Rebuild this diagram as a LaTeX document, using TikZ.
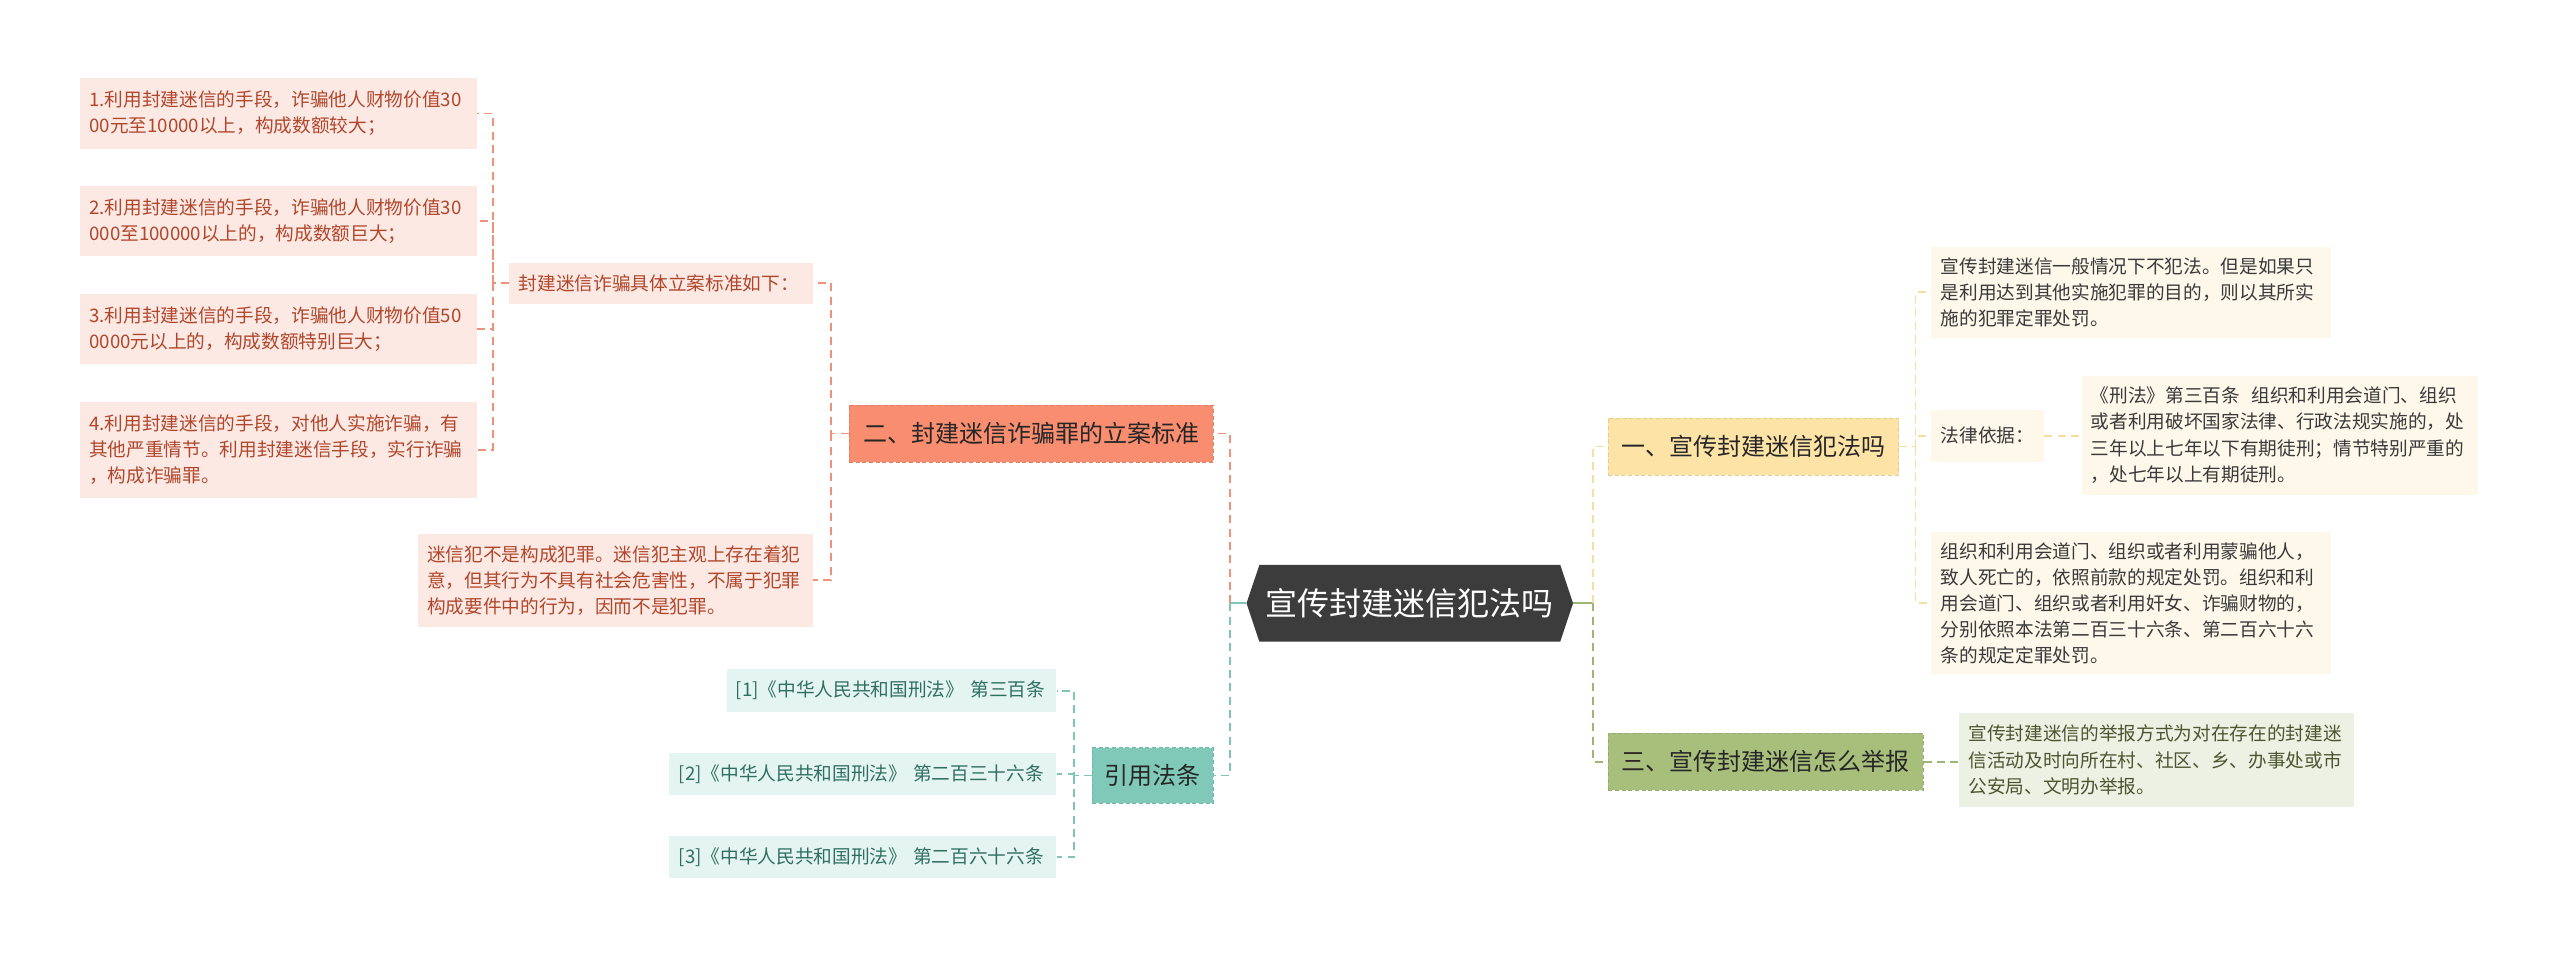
\documentclass[tikz,border=0pt]{standalone}
\usepackage{fontspec}
\setmainfont{Noto Sans CJK SC}
\usetikzlibrary{shapes.symbols}

\definecolor{redfill}{HTML}{FDE9E3}
\definecolor{redtext}{HTML}{B0472D}
\definecolor{redline}{HTML}{EF927B}
\definecolor{redtopic}{HTML}{F98D6F}
\definecolor{tealfill}{HTML}{E4F4F0}
\definecolor{tealtext}{HTML}{2F6F62}
\definecolor{tealline}{HTML}{7FC4B5}
\definecolor{tealtopic}{HTML}{80C9B8}
\definecolor{yelfill}{HTML}{FDF8EA}
\definecolor{yeltext}{HTML}{3A3A3A}
\definecolor{yelline}{HTML}{F5DEA2}
\definecolor{yeltopic}{HTML}{FDE3A6}
\definecolor{grnfill}{HTML}{EDF1E3}
\definecolor{grntext}{HTML}{4B5630}
\definecolor{grnline}{HTML}{9FB574}
\definecolor{grntopic}{HTML}{A8BF7C}
\definecolor{rootfill}{HTML}{3C3C3C}

\begin{document}
\begin{tikzpicture}[x=1.2245pt,y=-1.2245pt,
  leaffont/.style={font=\fontsize{14}{19.6}\selectfont},
  leafbox/.style={leaffont, align=left, inner xsep=7pt, inner ysep=3pt, text width=#1},
  redleaf/.style={leafbox=#1, fill=redfill, text=redtext},
  tealleaf/.style={leafbox=#1, fill=tealfill, text=tealtext},
  yelleaf/.style={leafbox=#1, fill=yelfill, text=yeltext},
  grnleaf/.style={leafbox=#1, fill=grnfill, text=grntext},
  topic/.style={font=\fontsize{18}{22}\selectfont, text=black!85, inner sep=0pt,
    minimum height=42.9pt, draw=#1!90!black, densely dashed, line width=0.5pt, fill=#1},
  rootnode/.style={signal, signal to=west and east, signal pointer angle=143,
    fill=rootfill, text=white, font=\fontsize{24}{28}\selectfont,
    minimum width=244.9pt, minimum height=57.6pt, inner sep=0pt},
  link/.style={line width=1.4pt, dash pattern=on 6pt off 4pt},
  redlink/.style={link, draw=redline},
  teallink/.style={link, draw=tealline},
  yellink/.style={link, draw=yelline},
  grnlink/.style={link, draw=grnline}]

\fill[white] (0,0) rectangle (1568,589);
\useasboundingbox (0,0) rectangle (1568,589);

\node[rootnode] (root) at (863.5,369.5) {宣传封建迷信犯法吗};

\node[topic=redtopic, minimum width=273.1pt] (b2) at (631.5,265.5) {二、封建迷信诈骗罪的立案标准};
\node[topic=tealtopic, minimum width=90.6pt, minimum height=41.6pt] (b4) at (706,475) {引用法条};
\node[topic=yeltopic, minimum width=218pt] (b1) at (1074,273.5) {一、宣传封建迷信犯法吗};
\node[topic=grntopic, minimum width=236.3pt] (b3) at (1081.5,466.5) {三、宣传封建迷信怎么举报};

\node[redleaf=213.8pt, minimum height=30.6pt] (rsub) at (405,173.5) {封建迷信诈骗具体立案标准如下：};
\node[redleaf=283.6pt, minimum height=52.7pt] (r1) at (170.5,69.5) {1.利用封建迷信的手段，诈骗他人财物价值30\\00元至10000以上，构成数额较大；};
\node[redleaf=283.6pt, minimum height=52.7pt] (r2) at (170.5,135.5) {2.利用封建迷信的手段，诈骗他人财物价值30\\000至100000以上的，构成数额巨大；};
\node[redleaf=283.6pt, minimum height=52.7pt] (r3) at (170.5,201.5) {3.利用封建迷信的手段，诈骗他人财物价值50\\0000元以上的，构成数额特别巨大；};
\node[redleaf=283.6pt, minimum height=72.2pt] (r4) at (170.5,275.5) {4.利用封建迷信的手段，对他人实施诈骗，有\\其他严重情节。利用封建迷信手段，实行诈骗\\，构成诈骗罪。};
\node[redleaf=282.3pt, minimum height=69.8pt] (r5) at (377,355.5) {迷信犯不是构成犯罪。迷信犯主观上存在着犯\\意，但其行为不具有社会危害性，不属于犯罪\\构成要件中的行为，因而不是犯罪。};

\node[tealleaf=233.3pt, minimum height=31.8pt] (t1) at (546,423) {[1]《中华人民共和国刑法》 第三百条};
\node[tealleaf=276.2pt, minimum height=31.8pt] (t2) at (528.5,474) {[2]《中华人民共和国刑法》 第二百三十六条};
\node[tealleaf=276.2pt, minimum height=31.8pt] (t3) at (528.5,525) {[3]《中华人民共和国刑法》 第二百六十六条};

\node[yelleaf=286pt, minimum height=68.6pt] (y1) at (1305.5,179) {宣传封建迷信一般情况下不犯法。但是如果只\\是利用达到其他实施犯罪的目的，则以其所实\\施的犯罪定罪处罚。};
\node[yelleaf=70.5pt, minimum height=39.2pt] (ylaw) at (1217.5,267) {法律依据：};
\node[yelleaf=283.6pt, minimum height=89.4pt] (ylaw2) at (1396.5,266.5) {《刑法》第三百条\hspace{0.6em}组织和利用会道门、组织\\或者利用破坏国家法律、行政法规实施的，处\\三年以上七年以下有期徒刑；情节特别严重的\\，处七年以上有期徒刑。};
\node[yelleaf=286pt, minimum height=106.5pt] (y3) at (1305.5,369.5) {组织和利用会道门、组织或者利用蒙骗他人，\\致人死亡的，依照前款的规定处罚。组织和利\\用会道门、组织或者利用奸女、诈骗财物的，\\分别依照本法第二百三十六条、第二百六十六\\条的规定定罪处罚。};

\node[grnleaf=282.3pt, minimum height=69.8pt] (g1) at (1321,465.5) {宣传封建迷信的举报方式为对在存在的封建迷\\信活动及时向所在村、社区、乡、办事处或市\\公安局、文明办举报。};

\draw[draw=tealline, line width=1.4pt] (root.west) -- ++(-10,0) coordinate (lj);
\draw[redlink] (lj) |- (b2.east);
\draw[teallink] (lj) |- (b4.east);

\draw[redlink] (b2.west) -- ++(-11,0) coordinate (rj) |- (rsub.east);
\draw[redlink] (rj) |- (r5.east);
\draw[redlink] (rsub.west) -- ++(-10,0) coordinate (rj2) |- (r1.east);
\foreach \leaf in {r2,r3,r4}
  \draw[redlink] (rj2) |- (\leaf.east);

\draw[teallink] (b4.west) -- ++(-11,0) coordinate (tj) |- (t1.east);
\foreach \leaf in {t2,t3}
  \draw[teallink] (tj) |- (\leaf.east);

\draw[draw=grnline, line width=1.4pt] (root.east) -- ++(12,0) coordinate (rtj);
\draw[yellink] (rtj) |- (b1.west);
\draw[grnlink] (rtj) |- (b3.west);

\draw[yellink] (b1.east) -- ++(10,0) coordinate (yj) |- (y1.west);
\foreach \leaf in {ylaw,y3}
  \draw[yellink] (yj) |- (\leaf.west);
\draw[yellink] (ylaw.east) -- (ylaw.east -| ylaw2.west);

\draw[grnlink] (b3.east) -- (b3.east -| g1.west);
\end{tikzpicture}
\end{document}
